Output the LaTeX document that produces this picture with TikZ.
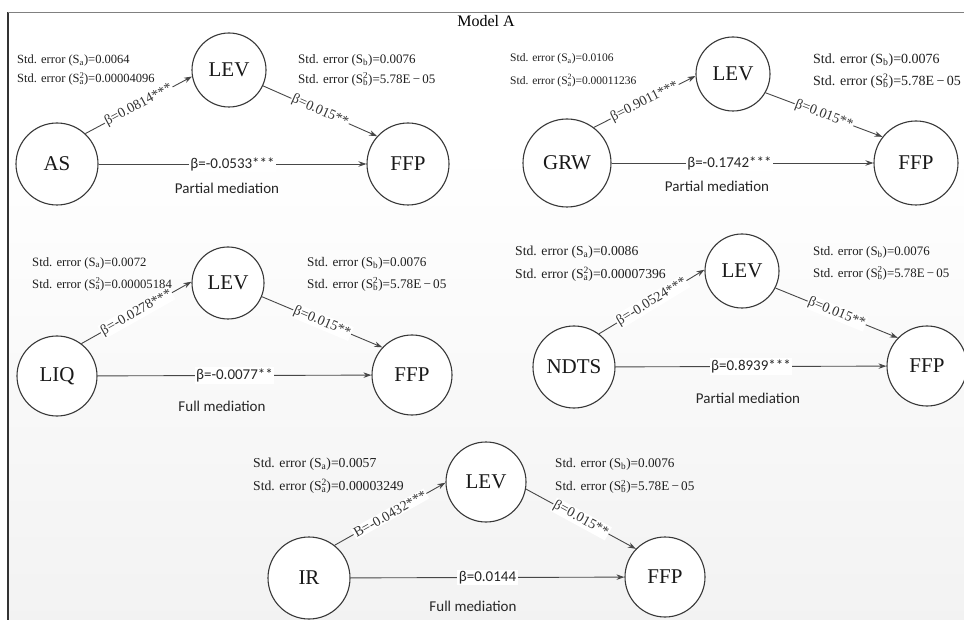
\documentclass[tikz,border=0pt]{standalone}
\usepackage{fontspec}
\setmainfont{Liberation Serif}
\newfontfamily\labsans{Carlito}
\usetikzlibrary{arrows.meta}
\tikzset{
  var/.style={circle, draw=black!78, line width=1.1pt, fill=white, inner sep=0pt,
    font=\fontsize{21}{24}\selectfont, text=black!90},
  arr/.style={draw=black!72, line width=0.9pt, -{Stealth[length=8pt,width=5.5pt]}},
  elab/.style={sloped, fill=white, inner sep=1pt, font=\fontsize{14}{16}\selectfont, text=black!80},
  hlab/.style={fill=white, inner sep=1.5pt, font=\labsans\fontsize{15}{17}\selectfont, text=black!85},
  medlab/.style={inner sep=1pt, font=\labsans\fontsize{15}{17}\selectfont, text=black!85},
  se/.style={anchor=west, align=left, inner sep=0pt, text=black!88},
}
\newcommand\Sx[1]{S\textsubscript{#1}}
\newcommand\Sxx[1]{S\rlap{\textsuperscript{2}}\textsubscript{#1}}
\begin{document}
\begin{tikzpicture}[x=1pt,y=-1pt]
\useasboundingbox (0,0) rectangle (964,620);
\fill[white] (0,0) rectangle (964,620);
\shade[top color=white, bottom color=black!5] (8,150) rectangle (964,620);
\draw[black!80, line width=1.2pt] (8,12) -- (8,620);
\draw[black!50, line width=1.5pt] (8,12.5) -- (964,12.5);
\node[font=\fontsize{16}{18}\selectfont] (title) at (486,21) {Model A};

% Panel 1
\node[var, minimum size=82pt] (as) at (57,164) {AS};
\node[var, minimum size=74pt] (lev1) at (229,70) {LEV};
\node[var, minimum size=82pt] (ffp1) at (408,164) {FFP};
\draw[arr] (as.47) -- node[elab]{β=0.0814***} (lev1.190);
\draw[arr] (lev1.335) -- node[elab]{β=0.015**} (ffp1.138);
\draw[arr] (as) -- node[hlab]{β=-0.0533***} (ffp1);
\node[medlab] (m1) at (227,188) {Partial mediation};
\node[se, font=\fontsize{12.5}{19}\selectfont] (sa1) at (17,70)
  {Std. error (\Sx{a})=0.0064\\Std. error (\Sxx{a})=0.00004096};
\node[se, font=\fontsize{13}{20}\selectfont] (sb1) at (298,70)
  {Std. error (\Sx{b})=0.0076\\Std. error (\Sxx{b})=5.78E\,−\,05};

% Panel 2
\node[var, minimum size=88pt] (grw) at (567,163) {GRW};
\node[var, minimum size=74pt] (lev2) at (733,74) {LEV};
\node[var, minimum size=84pt] (ffp2) at (916,163) {FFP};
\draw[arr] (grw.53) -- node[elab]{β=0.9011***} (lev2.183);
\draw[arr] (lev2.330) -- node[elab]{β=0.015**} (ffp2.142);
\draw[arr] (grw) -- node[hlab, pos=0.45]{β=-0.1742***} (ffp2);
\node[medlab] (m2) at (717,186) {Partial mediation};
\node[se, font=\fontsize{11.5}{23}\selectfont] (sa2) at (510,70)
  {Std. error (\Sx{a})=0.0106\\Std. error (\Sxx{a})=0.00011236};
\node[se, font=\fontsize{14}{22}\selectfont] (sb2) at (813,71)
  {Std. error (\Sx{b})=0.0076\\Std. error (\Sxx{b})=5.78E\,−\,05};

% Panel 3
\node[var, minimum size=80pt] (liq) at (57,376) {LIQ};
\node[var, minimum size=72pt] (lev3) at (228,283) {LEV};
\node[var, minimum size=80pt] (ffp3) at (412,375) {FFP};
\draw[arr] (liq.53) -- node[elab]{β=-0.0278***} (lev3.178);
\draw[arr] (lev3.338) -- node[elab]{β=0.015**} (ffp3.137);
\draw[arr] (liq) -- node[hlab]{β=-0.0077**} (ffp3);
\node[medlab] (m3) at (222,406) {Full mediation};
\node[se, font=\fontsize{12.7}{22}\selectfont] (sa3) at (32,274)
  {Std. error (\Sx{a})=0.0072\\Std. error (\Sxx{a})=0.00005184};
\node[se, font=\fontsize{13.2}{22}\selectfont] (sb3) at (307,274)
  {Std. error (\Sx{b})=0.0076\\Std. error (\Sxx{b})=5.78E\,−\,05};

% Panel 4
\node[var, minimum size=82pt] (ndts) at (574,367) {NDTS};
\node[var, minimum size=74pt] (lev4) at (742,271) {LEV};
\node[var, minimum size=80pt] (ffp4) at (927,366) {FFP};
\draw[arr] (ndts.53) -- node[elab]{β=-0.0524***} (lev4.178);
\draw[arr] (lev4.333) -- node[elab]{β=0.015**} (ffp4.136);
\draw[arr] (ndts) -- node[hlab]{β=0.8939***} (ffp4);
\node[medlab] (m4) at (748,398) {Partial mediation};
\node[se, font=\fontsize{13.7}{23}\selectfont] (sa4) at (515,264)
  {Std. error (\Sx{a})=0.0086\\Std. error (\Sxx{a})=0.00007396};
\node[se, font=\fontsize{12.9}{22}\selectfont] (sb4) at (813,263)
  {Std. error (\Sx{b})=0.0076\\Std. error (\Sxx{b})=5.78E\,−\,05};

% Panel 5
\node[var, minimum size=82pt] (ir) at (309,578) {IR};
\node[var, minimum size=80pt] (lev5) at (486,482) {LEV};
\node[var, minimum size=80pt] (ffp5) at (665,577) {FFP};
\draw[arr] (ir.52) -- node[elab]{B=-0.0432***} (lev5.181);
\draw[arr] (lev5.350) -- node[elab]{β=0.015**} (ffp5.136);
\draw[arr] (ir) -- node[hlab]{β=0.0144} (ffp5);
\node[medlab] (m5) at (473,606) {Full mediation};
\node[se, font=\fontsize{13.7}{23}\selectfont] (sa5) at (253,476)
  {Std. error (\Sx{a})=0.0057\\Std. error (\Sxx{a})=0.00003249};
\node[se, font=\fontsize{13.2}{23}\selectfont] (sb5) at (555,476)
  {Std. error (\Sx{b})=0.0076\\Std. error (\Sxx{b})=5.78E\,−\,05};
\end{tikzpicture}
\end{document}
